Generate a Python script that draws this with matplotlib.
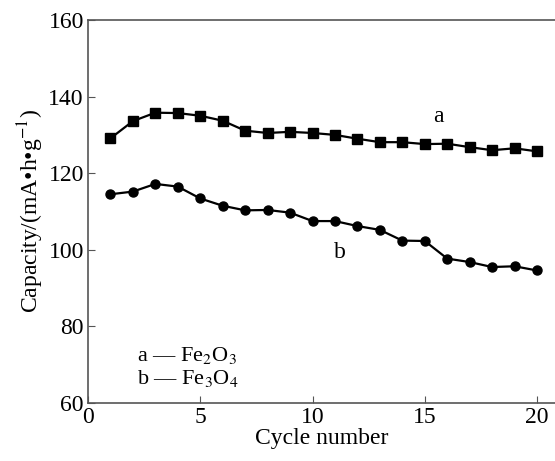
import matplotlib
matplotlib.use("Agg")
import matplotlib.pyplot as plt
import numpy as np

plt.rcParams['font.family'] = ['Liberation Serif', 'DejaVu Serif']
plt.rcParams['mathtext.fontset'] = 'stix'

cycles = np.arange(1, 21)
fe2o3 = [129.1, 133.6, 135.8, 135.7, 135.0, 133.7, 131.1, 130.5, 130.8, 130.5,
         130.0, 129.0, 128.1, 128.1, 127.6, 127.7, 126.8, 126.0, 126.5, 125.7]
fe3o4 = [114.5, 115.2, 117.2, 116.5, 113.4, 111.5, 110.3, 110.4, 109.7, 107.5,
         107.5, 106.2, 105.2, 102.4, 102.3, 97.7, 96.8, 95.5, 95.7, 94.6]

fig = plt.figure(figsize=(5.55, 4.61), dpi=100)
ax = fig.add_axes([88/555, 1 - 403/461, 1 - 88/555, (403-20)/461])

ax.plot(cycles, fe2o3, color='black', marker='s', markersize=6.5, linewidth=1.6)
ax.plot(cycles, fe3o4, color='black', marker='o', markersize=6.5, linewidth=1.6)

ax.text(15.6, 134.7, 'a', fontsize=17, ha='center', va='center')
ax.text(11.2, 99.2, 'b', fontsize=17, ha='center', va='center')

ax.text(2.2, 72.3, 'a \u2014 Fe$\\mathrm{_2}$O$\\mathrm{_3}$', fontsize=16, va='center')
ax.text(2.2, 66.4, 'b \u2014 Fe$\\mathrm{_3}$O$\\mathrm{_4}$', fontsize=16, va='center')

ax.set_xlim(0, 20.8)
ax.set_ylim(60, 160)
ax.set_xticks([0, 5, 10, 15, 20])
ax.set_yticks([60, 80, 100, 120, 140, 160])
ax.tick_params(direction='in', labelsize=17, length=5, color='#555555', pad=3)
ax.spines['right'].set_visible(False)
for s in ['left', 'bottom', 'top']:
    ax.spines[s].set_color('#555555')
    ax.spines[s].set_linewidth(1.2)

ax.set_xlabel('Cycle number', fontsize=17, labelpad=0)
ax.set_ylabel('Capacity/(mA\u2022h\u2022g$^{\\mathrm{-1}}$)', fontsize=17, labelpad=2)

fig.savefig('out.png', dpi=100)
